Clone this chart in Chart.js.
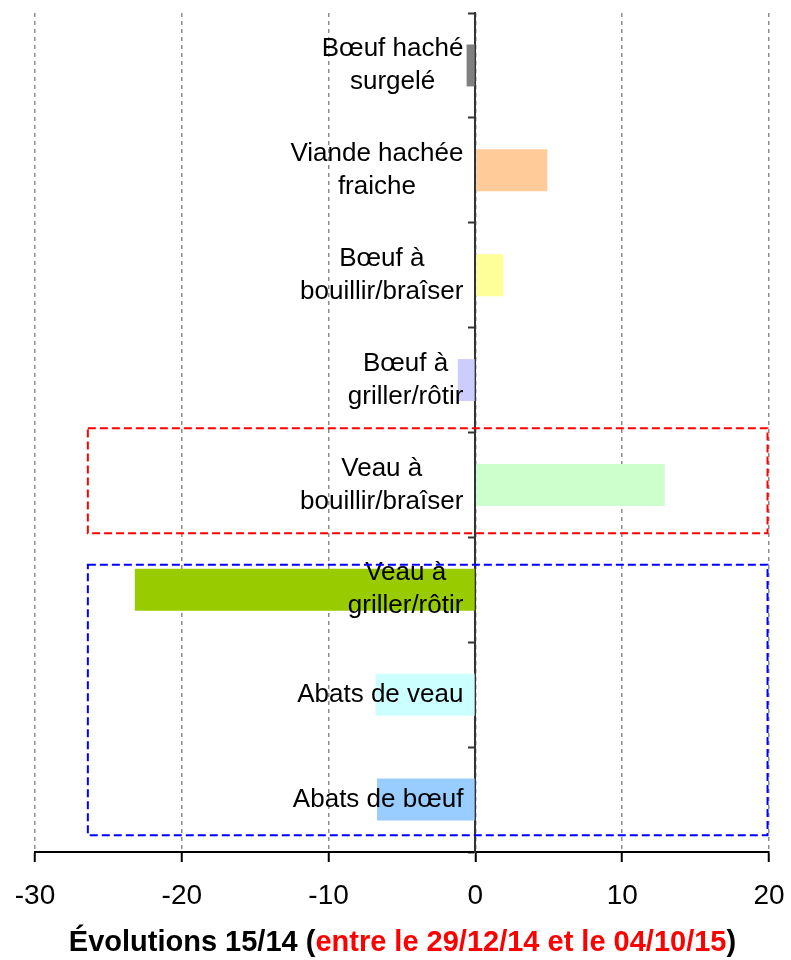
<!DOCTYPE html>
<html lang="fr">
<head>
    <meta charset="UTF-8">
    <title>Évolutions 15/14</title>
    <script src="https://cdn.jsdelivr.net/npm/chart.js"></script>
    <style>
        body {
            margin: 0;
            font-family: "Liberation Sans", Arial, sans-serif;
            background: #fff;
        }
        #wrap {
            position: relative;
            width: 791px;
            height: 960px;
        }
        #axisTitle {
            position: absolute;
            left: 7px;
            width: 791px;
            top: 925px;
            text-align: center;
            font-weight: bold;
            font-size: 29px;
            line-height: 32px;
            color: #000;
            white-space: nowrap;
        }
        #axisTitle .red { color: #ff0000; }
    </style>
</head>
<body>
<div id="wrap">
    <canvas id="evolChart"></canvas>
    <div id="axisTitle">Évolutions 15/14 (<span class="red">entre le 29/12/14 et le 04/10/15</span>)</div>
</div>

<script>
    // Catégories (une ligne par élément du tableau)
    const categories = [
        ['Bœuf haché', 'surgelé'],
        ['Viande hachée', 'fraiche'],
        ['Bœuf à', 'bouillir/braîser'],
        ['Bœuf à', 'griller/rôtir'],
        ['Veau à', 'bouillir/braîser'],
        ['Veau à', 'griller/rôtir'],
        ['Abats de veau'],
        ['Abats de bœuf']
    ];
    // Évolution 15/14 en %
    const values = [-0.6, 4.9, 1.9, -1.2, 12.9, -23.2, -6.8, -6.7];
    const barColors = ['#808080', '#FFCC99', '#FFFF99', '#CCCCFF', '#CCFFCC', '#99CC00', '#CCFFFF', '#99CCFF'];
    const xMin = -30, xMax = 20, xStep = 10;

    // Cadres en pointillés (coordonnées en unités des axes)
    const frames = [
        { x1: -26.4, x2: 19.9, y1: 3.46, y2: 4.46, color: '#FF0000' },
        { x1: -26.4, x2: 19.9, y1: 4.76, y2: 7.34, color: '#0000FF' }
    ];

    const FONT = '"Liberation Sans", Arial, sans-serif';

    // Libellés des catégories dessinés par-dessus les barres, centrés ligne par ligne
    const labelPlugin = {
        id: 'catLabels',
        afterDatasetsDraw(chart) {
            const ctx = chart.ctx;
            const xs = chart.scales.x, ys = chart.scales.y;
            const right = xs.getPixelForValue(0) - 12;
            const lineH = 33;
            ctx.save();
            ctx.font = '26px ' + FONT;
            ctx.fillStyle = '#000';
            ctx.textAlign = 'center';
            ctx.textBaseline = 'middle';
            categories.forEach((lines, i) => {
                const w = Math.max(...lines.map(l => ctx.measureText(l).width));
                const cx = right - w / 2;
                const cy = ys.getPixelForValue(i);
                lines.forEach((l, k) => {
                    ctx.fillText(l, cx, cy + (k - (lines.length - 1) / 2) * lineH);
                });
            });
            ctx.restore();
        }
    };

    const framePlugin = {
        id: 'frames',
        afterDraw(chart) {
            const ctx = chart.ctx;
            const xs = chart.scales.x, ys = chart.scales.y;
            ctx.save();
            ctx.lineWidth = 2;
            ctx.setLineDash([8, 4]);
            frames.forEach(f => {
                const l = xs.getPixelForValue(f.x1), r = xs.getPixelForValue(f.x2);
                const t = ys.getPixelForValue(f.y1), b = ys.getPixelForValue(f.y2);
                ctx.strokeStyle = f.color;
                ctx.strokeRect(l, t, r - l, b - t);
            });
            ctx.restore();
        }
    };

    new Chart(document.getElementById('evolChart'), {
        type: 'bar',
        data: {
            labels: categories,
            datasets: [{
                data: values,
                backgroundColor: barColors,
                borderWidth: 0,
                barPercentage: 0.4,
                categoryPercentage: 1.0
            }]
        },
        options: {
            indexAxis: 'y',
            responsive: true,
            maintainAspectRatio: false,
            animation: false,
            layout: { padding: { left: 35, right: 22, top: 13, bottom: 48 } },
            plugins: {
                legend: { display: false },
                tooltip: { enabled: false }
            },
            scales: {
                x: {
                    type: 'linear',
                    min: xMin,
                    max: xMax,
                    ticks: {
                        stepSize: xStep,
                        color: '#000',
                        font: { family: FONT, size: 28 },
                        padding: 17,
                        maxRotation: 0
                    },
                    grid: {
                        color: '#8c8c8c',
                        lineWidth: 1.5,
                        tickLength: 10,
                        tickColor: '#000',
                        tickWidth: 2
                    },
                    border: { color: '#000', width: 2, dash: [4, 4] },
                    afterFit(scale) {
                        scale.height = 60;
                        scale.paddingLeft = 0;
                        scale.paddingRight = 0;
                    }
                },
                y: {
                    position: { x: 0 },
                    z: 1,
                    ticks: { display: false },
                    grid: {
                        drawOnChartArea: false,
                        tickLength: 6,
                        color: '#333',
                        tickColor: '#333',
                        tickWidth: 2
                    },
                    border: { color: '#333', width: 2 }
                }
            }
        },
        plugins: [labelPlugin, framePlugin]
    });
</script>
</body>
</html>
